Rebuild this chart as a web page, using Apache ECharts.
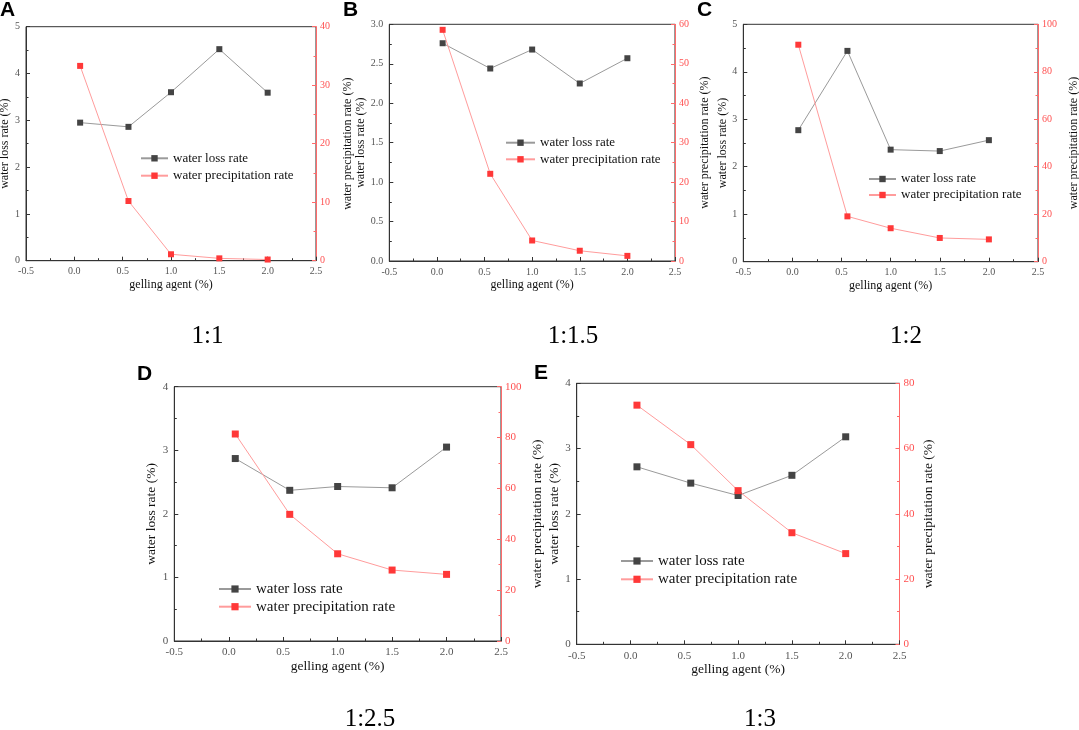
<!DOCTYPE html>
<html>
<head>
<meta charset="utf-8">
<script src="https://cdn.jsdelivr.net/npm/echarts@6/dist/echarts.min.js"></script>
<style>
  html, body { margin: 0; padding: 0; background: #fff; }
  #chart { width: 1079px; height: 730px; }
</style>
</head>
<body>
<div id="chart"></div>
<script>
// gelling agent dosage (%) - shared x values
const gellingAgent = [0.06, 0.56, 1.0, 1.5, 2.0];

// water loss rate (%) per ratio
const lossA = [2.95, 2.86, 3.60, 4.52, 3.59];
const lossB = [2.76, 2.44, 2.68, 2.25, 2.57];
const lossC = [2.77, 4.44, 2.36, 2.33, 2.56];
const lossD = [2.87, 2.37, 2.43, 2.41, 3.05];
const lossE = [2.72, 2.47, 2.28, 2.59, 3.18];

// water precipitation rate (%) per ratio
const precipA = [33.3, 10.2, 1.1, 0.4, 0.2];
const precipB = [58.6, 22.1, 5.2, 2.6, 1.3];
const precipC = [91.4, 19.1, 14.1, 10.0, 9.4];
const precipD = [81.4, 49.8, 34.3, 27.9, 26.2];
const precipE = [73.3, 61.2, 47.1, 34.2, 27.8];

const panelLetters = ['A', 'B', 'C', 'D', 'E'];
const ratioLabels = ['1:1', '1:1.5', '1:2', '1:2.5', '1:3'];
const seriesNames = ['water loss rate', 'water precipitation rate'];

// axis ranges
const xMin = -0.5, xMax = 2.5, xStep = 0.5;
const lossMax = [5, 3, 5, 4, 4];
const lossStep = [1, 0.5, 1, 1, 1];
const precipMax = [40, 60, 100, 100, 80];
const precipStep = [10, 10, 20, 20, 20];

const lossRates = [lossA, lossB, lossC, lossD, lossE];
const precipRates = [precipA, precipB, precipC, precipD, precipE];

// layout of each panel (pixels)
const layout = [
  { l: 26,    t: 26.7,  r: 316,   b: 260.7, tick: 10, name: 12,   gapL: 10, gapR: 26,
    lg: [140, 151.8, 27, 4.4, 13], sym: 6, letter: [0, 10],    cap: [207.5, 336] },
  { l: 389.3, t: 24.3,  r: 675,   b: 261,   tick: 10, name: 12,   gapL: 20, gapR: 24,
    lg: [505, 136.2, 29, 3.6, 13], sym: 6, letter: [343, 10],  cap: [573, 336] },
  { l: 743.3, t: 24.3,  r: 1038,  b: 261.7, tick: 10, name: 12,   gapL: 9,  gapR: 30,
    lg: [868, 172.5, 27, 3, 13],   sym: 6, letter: [697, 10],  cap: [906, 336] },
  { l: 174.3, t: 386.7, r: 501,   b: 641,   tick: 11, name: 13.5, gapL: 11, gapR: 29,
    lg: [218, 581.5, 32, 2.7, 15], sym: 7, letter: [137, 374], cap: [370, 719] },
  { l: 576.7, t: 383.3, r: 899.5, b: 644.3, tick: 11, name: 13.5, gapL: 12, gapR: 22,
    lg: [620, 553.5, 32, 3.3, 15], sym: 7, letter: [534, 373], cap: [760, 719] }
];

const serif = 'Liberation Serif';
const lossColor = '#444';
const lossLine = '#9a9a9a';
const precipColor = '#ff3838';
const precipLine = '#ff9c9c';
const redAxis = '#ff6a6a';

const grid = [], xAxis = [], yAxis = [], series = [], legend = [], graphic = [];

layout.forEach(function (p, i) {
  grid.push({
    left: p.l, top: p.t, width: p.r - p.l, height: p.b - p.t,
    show: true, borderColor: '#333', borderWidth: 1, backgroundColor: '#fff',
    outerBoundsMode: 'none', containLabel: false
  });

  xAxis.push({
    type: 'value', gridIndex: i, min: xMin, max: xMax, interval: xStep,
    name: 'gelling agent (%)', nameLocation: 'middle', nameGap: 18,
    nameTextStyle: { fontFamily: serif, fontSize: p.name, color: '#111' },
    axisLine: { show: true, onZero: false, lineStyle: { color: '#333', width: 1 } },
    axisTick: { show: true, inside: true, length: 4, lineStyle: { color: '#333' } },
    minorTick: { show: true, splitNumber: 2, length: 2.5, lineStyle: { color: '#333' } },
    splitLine: { show: false },
    axisLabel: { fontFamily: serif, fontSize: p.tick, color: '#555', margin: 6,
      formatter: function (v) { return v.toFixed(1); } }
  });

  yAxis.push({
    type: 'value', gridIndex: i, position: 'left', min: 0, max: lossMax[i], interval: lossStep[i],
    name: 'water loss rate (%)', nameLocation: 'middle', nameRotate: 90, nameGap: p.gapL,
    nameTextStyle: { fontFamily: serif, fontSize: p.name, color: '#111' },
    axisLine: { show: true, onZero: false, lineStyle: { color: '#333', width: 1 } },
    axisTick: { show: true, inside: true, length: 4, lineStyle: { color: '#333' } },
    minorTick: { show: true, splitNumber: 2, length: 2.5, lineStyle: { color: '#333' } },
    splitLine: { show: false },
    axisLabel: { fontFamily: serif, fontSize: p.tick, color: '#555', margin: 6,
      formatter: function (v) { return lossStep[i] < 1 ? v.toFixed(1) : String(v); } }
  });

  yAxis.push({
    type: 'value', gridIndex: i, position: 'right', min: 0, max: precipMax[i], interval: precipStep[i],
    name: 'water precipitation rate (%)', nameLocation: 'middle', nameRotate: 90, nameGap: p.gapR,
    nameTextStyle: { fontFamily: serif, fontSize: p.name, color: '#111' },
    axisLine: { show: true, onZero: false, lineStyle: { color: redAxis, width: 1 } },
    axisTick: { show: true, inside: true, length: 4, lineStyle: { color: redAxis } },
    minorTick: { show: true, splitNumber: 2, length: 2.5, lineStyle: { color: redAxis } },
    splitLine: { show: false },
    axisLabel: { fontFamily: serif, fontSize: p.tick, color: '#ff5050', margin: 4 }
  });

  series.push({
    name: seriesNames[0], type: 'line', xAxisIndex: i, yAxisIndex: i * 2,
    data: gellingAgent.map(function (x, k) { return [x, lossRates[i][k]]; }),
    symbol: 'rect', symbolSize: p.sym, showSymbol: true,
    itemStyle: { color: lossColor },
    lineStyle: { color: lossLine, width: 1 },
    emphasis: { disabled: true }, animation: false
  });
  series.push({
    name: seriesNames[1], type: 'line', xAxisIndex: i, yAxisIndex: i * 2 + 1,
    data: gellingAgent.map(function (x, k) { return [x, precipRates[i][k]]; }),
    symbol: 'rect', symbolSize: p.sym, showSymbol: true,
    itemStyle: { color: precipColor },
    lineStyle: { color: precipLine, width: 1 },
    emphasis: { disabled: true }, animation: false
  });

  legend.push({
    data: seriesNames, orient: 'vertical', left: p.lg[0], top: p.lg[1],
    itemWidth: p.lg[2], itemHeight: p.sym + 2, itemGap: p.lg[3], padding: 0,
    selectedMode: false,
    textStyle: { fontFamily: serif, fontSize: p.lg[4], lineHeight: p.lg[4], color: '#111' }
  });

  graphic.push({
    type: 'text', x: p.letter[0], y: p.letter[1],
    style: { text: panelLetters[i], font: 'bold 21px "Liberation Sans", Arial, sans-serif',
      fill: '#000', textAlign: 'left', textVerticalAlign: 'middle' }
  });
  graphic.push({
    type: 'text', x: p.cap[0], y: p.cap[1],
    style: { text: ratioLabels[i], font: '25px "Liberation Serif", serif',
      fill: '#000', textAlign: 'center', textVerticalAlign: 'middle' }
  });
});

const chart = echarts.init(document.getElementById('chart'), null, { renderer: 'canvas' });
chart.setOption({
  backgroundColor: '#fff',
  animation: false,
  grid: grid,
  xAxis: xAxis,
  yAxis: yAxis,
  legend: legend,
  series: series,
  graphic: graphic
});
</script>
</body>
</html>
